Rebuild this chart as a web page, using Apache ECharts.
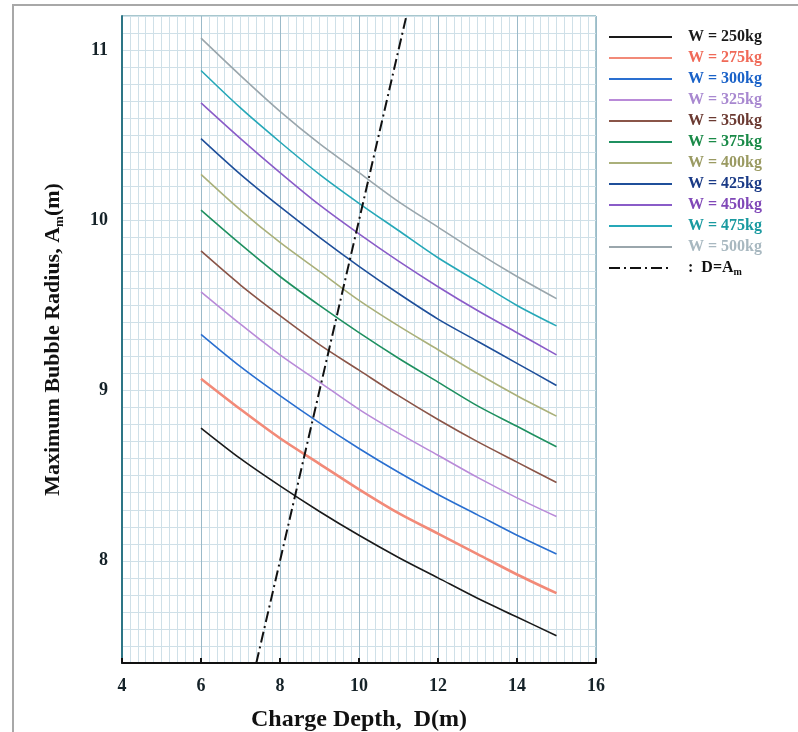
<!DOCTYPE html>
<html>
<head>
<meta charset="utf-8">
<script src="https://cdn.jsdelivr.net/npm/echarts@6/dist/echarts.min.js"></script>
<style>
html,body{margin:0;padding:0;background:#fff;}
#chart{width:798px;height:732px;}
</style>
</head>
<body>
<div id="chart"></div>
<script>
// Charge depth D (m)
const depth = [6, 7, 8, 9, 10, 11, 12, 13, 14, 15];
// Maximum bubble radius Am (m) for each charge weight
const w250 = [8.78, 8.60, 8.44, 8.29, 8.15, 8.02, 7.90, 7.78, 7.67, 7.56];
const w275 = [9.07, 8.89, 8.72, 8.57, 8.42, 8.28, 8.16, 8.04, 7.92, 7.81];
const w300 = [9.33, 9.14, 8.97, 8.81, 8.66, 8.52, 8.39, 8.27, 8.15, 8.04];
const w325 = [9.58, 9.39, 9.21, 9.05, 8.89, 8.75, 8.62, 8.49, 8.37, 8.26];
const w350 = [9.82, 9.62, 9.44, 9.27, 9.12, 8.97, 8.83, 8.70, 8.58, 8.46];
const w375 = [10.06, 9.86, 9.67, 9.50, 9.34, 9.19, 9.05, 8.91, 8.79, 8.67];
const w400 = [10.27, 10.06, 9.87, 9.70, 9.53, 9.38, 9.24, 9.10, 8.97, 8.85];
const w425 = [10.48, 10.27, 10.08, 9.90, 9.73, 9.57, 9.42, 9.29, 9.16, 9.03];
const w450 = [10.69, 10.48, 10.28, 10.09, 9.92, 9.76, 9.61, 9.47, 9.34, 9.21];
const w475 = [10.88, 10.66, 10.46, 10.27, 10.10, 9.94, 9.78, 9.64, 9.50, 9.38];
const w500 = [11.07, 10.85, 10.64, 10.45, 10.28, 10.11, 9.96, 9.81, 9.67, 9.54];
// D = Am reference line
const lineD = [7.4, 11.2];
const lineA = [7.4, 11.2];

const seriesNames = ['W = 250kg','W = 275kg','W = 300kg','W = 325kg','W = 350kg','W = 375kg','W = 400kg','W = 425kg','W = 450kg','W = 475kg','W = 500kg'];
const seriesValues = [w250,w275,w300,w325,w350,w375,w400,w425,w450,w475,w500];
const lineColors = ['#1a1a1a','#f28a78','#2a6fd0','#b98ad8','#8a5548','#1f9060','#aab07a','#1f4f9a','#8a5cc8','#26a8b8','#9aa6ac'];
const textColors = ['#1a1a1a','#f06a58','#1a62c8','#a888d0','#6b3a32','#1a8a48','#9a9a62','#1a3a86','#8048b8','#1a9aa0','#a8b8c0'];
const lineWidths = [1.6,2.6,1.6,1.6,1.6,1.6,1.6,1.6,1.6,1.6,1.6];

const serif = '"Liberation Serif","DejaVu Serif",serif';

const series = seriesNames.map((n, i) => ({
  name: n,
  type: 'line',
  smooth: 0.3,
  symbol: 'none',
  data: depth.map((d, j) => [d, seriesValues[i][j]]),
  lineStyle: { color: lineColors[i], width: lineWidths[i] },
  itemStyle: { color: lineColors[i] },
  z: 3
}));
series.push({
  name: 'D=Am',
  type: 'line',
  symbol: 'none',
  data: lineD.map((d, j) => [d, lineA[j]]),
  lineStyle: { color: '#111', width: 2, type: [11, 4, 2, 4] },
  itemStyle: { color: '#111' },
  z: 4
});

const legendData = seriesNames.map((n, i) => ({ name: n, textStyle: { color: textColors[i] } }));
legendData.push({ name: 'D=Am', textStyle: { color: '#111' } });

// vertical split line colours: darker every 2 units (every 10th 0.2 step)
const vColors = ['#9bbac9','#cfe0e8','#cfe0e8','#cfe0e8','#cfe0e8','#cfe0e8','#cfe0e8','#cfe0e8','#cfe0e8','#cfe0e8'];

const chart = echarts.init(document.getElementById('chart'));
chart.setOption({
  animation: false,
  backgroundColor: '#fff',
  graphic: [{
    type: 'rect',
    shape: { x: 13, y: 5, width: 900, height: 900 },
    style: { fill: 'none', stroke: '#a8a8a8', lineWidth: 2 },
    silent: true, z: -1
  }],
  grid: { left: 122, right: 202, top: 16, bottom: 69, outerBoundsMode: 'none', containLabel: false,
    show: true, borderColor: '#4f8e9c', borderWidth: 1, backgroundColor: 'transparent' },
  legend: {
    orient: 'vertical',
    left: 608,
    top: 29,
    padding: 0,
    itemWidth: 63,
    itemHeight: 14,
    itemGap: 5,
    data: legendData,
    itemStyle: { opacity: 0 },
    textStyle: { fontFamily: serif, fontWeight: 'bold', fontSize: 16, padding: [0, 0, 0, 11],
      rich: { sub: { fontFamily: serif, fontWeight: 'bold', fontSize: 10, padding: [8, 0, 0, 0], color: '#111' } } },
    formatter: n => n === 'D=Am' ? ':  D=A{sub|m}' : n
  },
  xAxis: [{
    type: 'value',
    min: 4, max: 16, interval: 0.2,
    name: 'Charge Depth,  D(m)',
    nameLocation: 'middle',
    nameGap: 45,
    nameTextStyle: { fontFamily: serif, fontWeight: 'bold', fontSize: 24, color: '#111' },
    axisLine: { show: true, onZero: false, lineStyle: { color: '#111', width: 2 } },
    axisTick: { show: false },
    axisLabel: {
      margin: 14,
      fontFamily: serif, fontWeight: 'bold', fontSize: 18, color: '#152228',
      formatter: v => { const r = Math.round(v); return (Math.abs(v - r) < 1e-6 && r % 2 === 0) ? String(r) : ''; }
    },
    splitLine: { show: true, lineStyle: { color: vColors, width: 1 } }
  }, {
    type: 'value',
    position: 'bottom',
    min: 4, max: 16, interval: 2,
    axisLine: { show: false },
    axisTick: { show: true, inside: true, length: 5, lineStyle: { color: '#111', width: 2 } },
    axisLabel: { show: false },
    splitLine: { show: false }
  }],
  yAxis: {
    type: 'value',
    min: 7.4, max: 11.2, interval: 0.1,
    name: 'Maximum Bubble Radius, A{sub|m}(m)',
    nameLocation: 'middle',
    nameGap: 56,
    nameRotate: 90,
    nameTextStyle: { fontFamily: serif, fontWeight: 'bold', fontSize: 22, color: '#111',
      rich: { sub: { fontFamily: serif, fontWeight: 'bold', fontSize: 13, padding: [12, 0, 0, 0], color: '#111' } } },
    axisLine: { show: true, onZero: false, lineStyle: { color: '#2d7585', width: 2 } },
    axisTick: { show: false },
    axisLabel: {
      margin: 14,
      fontFamily: serif, fontWeight: 'bold', fontSize: 18, color: '#152228',
      formatter: v => { const r = Math.round(v); return Math.abs(v - r) < 1e-6 ? String(r) : ''; }
    },
    splitLine: { show: true, lineStyle: { color: '#cfe0e8', width: 1 } }
  },
  series: series
});
</script>
</body>
</html>
